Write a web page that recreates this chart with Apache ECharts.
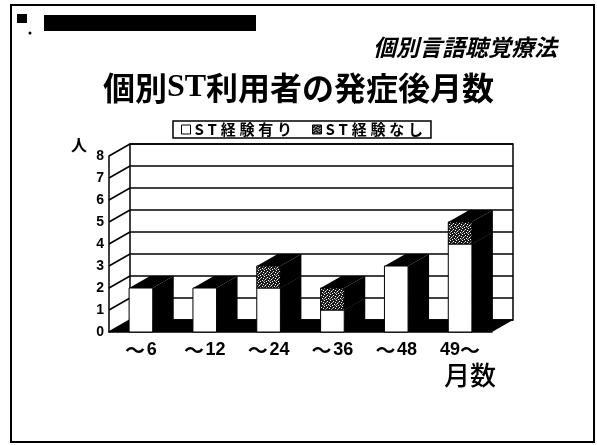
<!DOCTYPE html>
<html>
<head>
<meta charset="utf-8">
<script src="https://cdn.jsdelivr.net/npm/echarts/dist/echarts.min.js"></script>
<style>
  html, body { margin: 0; padding: 0; background: #fff; }
  #chart { width: 597px; height: 445px; }
</style>
</head>
<body>
<div id="chart"></div>
<script>
// Months since onset, grouped; number of people in individual ST
const categories = ['～6', '～12', '～24', '～36', '～48', '49～'];
const withST = [2, 2, 2, 1, 3, 4];      // ST経験有り
const withoutST = [0, 0, 1, 1, 0, 1];   // ST経験なし
const yTicks = [0, 1, 2, 3, 4, 5, 6, 7, 8];
const seriesNames = ['ST経験有り', 'ST経験なし'];

// pseudo-3D depth offset (pixels)
const DX = 21, DY = -12;

// speckled dark fill used for the stacked segment
function makeSpeckle() {
  const c = document.createElement('canvas');
  c.width = 6; c.height = 6;
  const g = c.getContext('2d');
  g.fillStyle = '#1a1a1a';
  g.fillRect(0, 0, 6, 6);
  g.fillStyle = '#ffffff';
  [[0,0],[3,1],[1,3],[4,4],[5,2],[2,5]].forEach(p => g.fillRect(p[0], p[1], 1, 1));
  g.fillStyle = '#9a9a9a';
  [[2,2],[5,5],[0,4]].forEach(p => g.fillRect(p[0], p[1], 1, 1));
  return c;
}
const speckle = { image: makeSpeckle(), repeat: 'repeat' };

function prism(fill) {
  return function (params, api) {
    const i = api.value(0), lo = api.value(1), hi = api.value(2);
    if (hi <= lo) return null;
    const band = api.size([1, 0])[0];
    const bw = band * 0.37;
    const c0 = api.coord([i, lo]);
    const c1 = api.coord([i, hi]);
    const xl = c0[0] - bw / 2, xr = c0[0] + bw / 2;
    const yb = c0[1], yt = c1[1];
    return {
      type: 'group',
      children: [
        { type: 'polygon', shape: { points: [[xr, yt], [xr + DX, yt + DY], [xr + DX, yb + DY], [xr, yb]] },
          style: { fill: '#000' } },
        { type: 'polygon', shape: { points: [[xl, yt], [xl + DX, yt + DY], [xr + DX, yt + DY], [xr, yt]] },
          style: { fill: '#000' } },
        { type: 'rect', shape: { x: xl, y: yt, width: bw, height: yb - yt },
          style: { fill: fill, stroke: '#000', lineWidth: 1 } }
      ]
    };
  };
}

// left side wall diagonals and the dark floor
function walls(params, api) {
  const v = api.value(0);
  const band = api.size([1, 0])[0];
  const p = api.coord([0, v]);
  const xL = p[0] - band / 2;
  const children = [
    { type: 'line', shape: { x1: xL, y1: p[1], x2: xL + DX, y2: p[1] + DY },
      style: { stroke: '#000', lineWidth: 1.5 } }
  ];
  if (v === 0) {
    const q = api.coord([categories.length - 1, 0]);
    const xR = q[0] + band / 2;
    children.unshift({ type: 'polygon',
      shape: { points: [[xL, p[1]], [xL + DX, p[1] + DY], [xR + DX, p[1] + DY], [xR, p[1]]] },
      style: { fill: '#000' } });
  }
  return { type: 'group', children: children };
}

const chart = echarts.init(document.getElementById('chart'), null, { renderer: 'canvas' });

const FRONT = { left: 109, top: 156, width: 383, height: 176 };

chart.setOption({
  animation: false,
  backgroundColor: '#fff',
  title: {
    text: '{a|個別}{b|ST}{a|利用者の発症後月数}',
    left: 'center',
    top: 67,
    textStyle: {
      rich: {
        a: { fontFamily: '"Noto Sans CJK JP"', fontWeight: 'bold', fontSize: 32, color: '#000' },
        b: { fontFamily: '"Liberation Serif"', fontWeight: 'bold', fontSize: 32, color: '#000' }
      }
    }
  },
  legend: {
    data: [
      { name: seriesNames[0], icon: 'rect', itemStyle: { color: '#fff', borderColor: '#000', borderWidth: 1 } },
      { name: seriesNames[1], icon: 'rect', itemStyle: { color: speckle, borderColor: '#000', borderWidth: 1 } }
    ],
    formatter: name => name.split('').join('\u2005'),
    left: 173,
    top: 121,
    itemWidth: 9,
    itemHeight: 9,
    itemGap: 20,
    padding: [1, 8],
    borderColor: '#000',
    borderWidth: 1.5,
    textStyle: { fontFamily: '"Noto Sans CJK JP"', fontWeight: 'bold', fontSize: 15, color: '#000', padding: [0, 0, 0, -1] }
  },
  grid: [
    Object.assign({ show: false }, FRONT),
    { left: FRONT.left + DX, top: FRONT.top + DY, width: FRONT.width, height: FRONT.height,
      show: true, borderColor: '#000', borderWidth: 1.5, backgroundColor: '#fff' }
  ],
  xAxis: [
    { type: 'category', gridIndex: 0, data: categories,
      axisLine: { show: true, lineStyle: { color: '#000', width: 1.5 } },
      axisTick: { show: false },
      axisLabel: {
        interval: 0,
        hideOverlap: false,
        margin: 8,
        formatter: v => v.replace(/^～/, '{t|～}{s| }').replace(/～$/, '{t|～}').replace(/(\d+)/, '{d|$1}'),
        rich: {
          t: { fontFamily: '"Noto Sans CJK JP"', fontWeight: 'bold', fontSize: 20, color: '#000' },
          s: { fontFamily: 'Liberation Sans', fontSize: 6 },
          d: { fontFamily: 'Liberation Sans', fontWeight: 'bold', fontSize: 18, color: '#000' }
        }
      } },
    { type: 'category', gridIndex: 1, data: categories,
      axisLine: { show: false }, axisTick: { show: false }, axisLabel: { show: false } }
  ],
  yAxis: [
    { type: 'value', gridIndex: 0, min: 0, max: 8, interval: 1,
      axisLine: { show: true, lineStyle: { color: '#000', width: 1.5 } },
      axisTick: { show: false },
      splitLine: { show: false },
      axisLabel: { color: '#000', fontFamily: 'Liberation Sans', fontWeight: 'bold', fontSize: 14, margin: 5 } },
    { type: 'value', gridIndex: 1, min: 0, max: 8, interval: 1,
      axisLine: { show: false }, axisTick: { show: false }, axisLabel: { show: false },
      splitLine: { show: true, lineStyle: { color: '#000', width: 1.5 } } }
  ],
  series: [
    { type: 'custom', name: 'walls', xAxisIndex: 0, yAxisIndex: 0, silent: true,
      renderItem: walls, data: yTicks.map(v => [v]), encode: { y: 0 } },
    { type: 'custom', name: seriesNames[0], xAxisIndex: 0, yAxisIndex: 0,
      itemStyle: { color: '#fff', borderColor: '#000' },
      renderItem: prism('#fff'),
      data: withST.map((v, i) => [i, 0, v]), encode: { x: 0, y: [1, 2] } },
    { type: 'custom', name: seriesNames[1], xAxisIndex: 0, yAxisIndex: 0,
      itemStyle: { color: speckle, borderColor: '#000' },
      renderItem: prism(speckle),
      data: withoutST.map((v, i) => [i, withST[i], withST[i] + v]), encode: { x: 0, y: [1, 2] } }
  ],
  graphic: [
    { type: 'rect', shape: { x: 11, y: 5, width: 583, height: 437 },
      style: { fill: null, stroke: '#000', lineWidth: 2 }, silent: true },
    { type: 'rect', shape: { x: 17, y: 14, width: 10, height: 9 }, style: { fill: '#000' } },
    { type: 'rect', shape: { x: 44, y: 15, width: 212, height: 16 }, style: { fill: '#000' } },
    { type: 'circle', shape: { cx: 30, cy: 33, r: 1.5 }, style: { fill: '#000' } },
    { type: 'text', style: { text: '個別言語聴覚療法', x: 557, y: 47, align: 'right', verticalAlign: 'middle',
      font: 'italic bold 23px "Noto Sans CJK JP"', fill: '#000' } },
    { type: 'text', style: { text: '人', x: 79, y: 145, align: 'center', verticalAlign: 'middle',
      font: 'bold 16px "Noto Sans CJK JP"', fill: '#000' } },
    { type: 'text', style: { text: '月数', x: 470, y: 375, align: 'center', verticalAlign: 'middle',
      font: '500 26px "Noto Sans CJK JP"', fill: '#000' } }
  ]
});
</script>
</body>
</html>
